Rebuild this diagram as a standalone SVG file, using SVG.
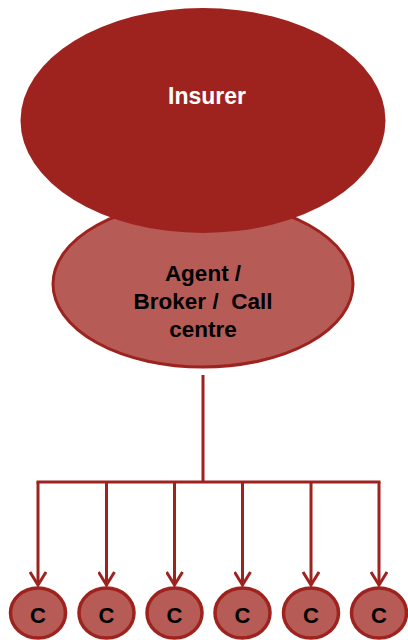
<svg xmlns="http://www.w3.org/2000/svg" width="408" height="640" viewBox="0 0 408 640">
  <style>
    .dark { fill: #9e231f; }
    .mid { fill: #b65b56; stroke: #9e231f; stroke-width: 3; }
    .lbl { font-family: "Liberation Sans", Arial, sans-serif; font-weight: bold; text-anchor: middle; }
    .wire { fill: none; stroke: #9e231f; stroke-width: 3; }
    .cust { fill: #b65b56; stroke: #9e231f; stroke-width: 3.5; }
  </style>
  <defs>
    <!-- open V arrowhead, drawn along +x so orient="auto" points it down the line -->
    <marker id="vee" viewBox="0 0 16 18" refX="14" refY="9" markerWidth="16" markerHeight="18" markerUnits="userSpaceOnUse" orient="auto">
      <path d="M1,1 L14,9 L1,17" fill="none" stroke="#9e231f" stroke-width="3"/>
    </marker>
  </defs>

  <rect width="408" height="640" fill="#ffffff"/>

  <g id="agent">
    <ellipse class="mid" cx="203" cy="284" rx="150" ry="83"/>
    <text class="lbl" font-size="22.5" fill="#000" x="203" y="281">Agent /</text>
    <text class="lbl" font-size="22.5" fill="#000" x="203" y="309" xml:space="preserve">Broker /  Call</text>
    <text class="lbl" font-size="22.5" fill="#000" x="203" y="337">centre</text>
  </g>

  <g id="insurer">
    <ellipse class="dark" cx="203" cy="120.5" rx="182.5" ry="112.5"/>
    <text class="lbl" font-size="23" fill="#ffffff" x="207" y="104">Insurer</text>
  </g>

  <g id="connectors">
    <path class="wire" d="M203,375 V482 M36.5,482 H380.5"/>
    <path class="wire" d="M38,482 V585" marker-end="url(#vee)"/>
    <path class="wire" d="M106.5,482 V585" marker-end="url(#vee)"/>
    <path class="wire" d="M174.5,482 V585" marker-end="url(#vee)"/>
    <path class="wire" d="M242.5,482 V585" marker-end="url(#vee)"/>
    <path class="wire" d="M311,482 V585" marker-end="url(#vee)"/>
    <path class="wire" d="M379,482 V585" marker-end="url(#vee)"/>
  </g>

  <g id="c1"><ellipse class="cust" cx="38" cy="613" rx="27.5" ry="25"/><text class="lbl" font-size="22" x="38" y="623">C</text></g>
  <g id="c2"><ellipse class="cust" cx="106.5" cy="613" rx="27.5" ry="25"/><text class="lbl" font-size="22" x="106.5" y="623">C</text></g>
  <g id="c3"><ellipse class="cust" cx="174.5" cy="613" rx="27.5" ry="25"/><text class="lbl" font-size="22" x="174.5" y="623">C</text></g>
  <g id="c4"><ellipse class="cust" cx="242.5" cy="613" rx="27.5" ry="25"/><text class="lbl" font-size="22" x="242.5" y="623">C</text></g>
  <g id="c5"><ellipse class="cust" cx="311" cy="613" rx="27.5" ry="25"/><text class="lbl" font-size="22" x="311" y="623">C</text></g>
  <g id="c6"><ellipse class="cust" cx="379" cy="613" rx="27.5" ry="25"/><text class="lbl" font-size="22" x="379" y="623">C</text></g>
</svg>
